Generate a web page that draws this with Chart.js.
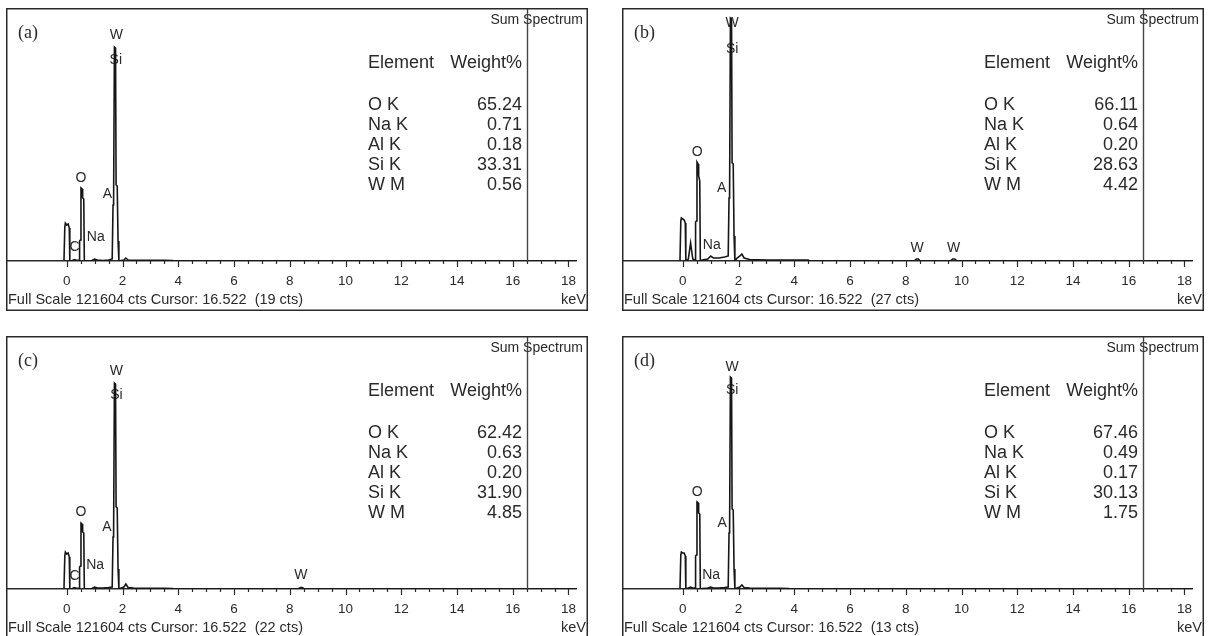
<!DOCTYPE html>
<html>
<head>
<meta charset="utf-8">
<title>EDS sum spectra</title>
<script src="https://cdn.jsdelivr.net/npm/chart.js@4.4.1/dist/chart.umd.min.js"></script>
<style>
  html, body { margin: 0; padding: 0; background: #fff; overflow: hidden; }
  body { width: 1212px; height: 636px; position: relative; }
  canvas { position: absolute; }
</style>
</head>
<body>
<canvas id="panelA" width="582" height="303" style="left:6px;top:8px"></canvas>
<canvas id="panelB" width="582" height="303" style="left:622px;top:8px"></canvas>
<canvas id="panelC" width="582" height="303" style="left:6px;top:336px"></canvas>
<canvas id="panelD" width="582" height="303" style="left:622px;top:336px"></canvas>
<script>
"use strict";
// energy channels (keV) shared by the four spectra
const energyKeV = [-0.10, -0.07, -0.05, 0.00, 0.05, 0.09, 0.11, 0.20, 0.28, 0.36, 0.44, 0.46, 0.49, 0.51, 0.55, 0.57, 0.61, 0.63, 0.70, 0.90,
    1.00, 1.10, 1.30, 1.50, 1.63, 1.66, 1.68, 1.71, 1.75, 1.77, 1.81, 1.84, 1.87, 1.95, 2.05, 2.12, 2.20, 2.40, 3.00, 3.50,
    3.80, 3.85, 4.50, 4.55, 8.30, 8.38, 8.45, 8.52, 9.60, 9.68, 9.76, 9.84, 18.30];
const countsA = [0, 16340, 18260, 17300, 17780, 15860, 0, 240, 720, 240, 480, 9610, 10090, 35090, 34610, 30280, 29800, 0, 140, 240,
    960, 480, 240, 480, 960, 26920, 27880, 102860, 102380, 36530, 36050, 9610, 0, 240, 480, 1440, 480, 380, 290, 380,
    240, 0, 0, 0, 0, 0, 0, 0, 0, 0, 0, 0, 0];
const countsB = [0, 19230, 20670, 20190, 19710, 18260, 0, 960, 8650, 960, 480, 18750, 19230, 47580, 46620, 40860, 38450, 0, 480, 960,
    2400, 1440, 1440, 1920, 2400, 30280, 31240, 116800, 116320, 47100, 46620, 12020, 0, 1440, 2400, 3360, 1440, 720, 480, 480,
    480, 480, 480, 0, 0, 960, 960, 0, 0, 960, 960, 0, 0];
const countsC = [0, 15860, 17780, 16820, 17300, 15380, 0, 240, 720, 240, 480, 10570, 11050, 31720, 31240, 27400, 26920, 0, 140, 240,
    960, 480, 480, 720, 960, 24990, 25950, 99010, 98530, 39410, 38930, 9610, 0, 480, 960, 2400, 720, 480, 290, 380,
    240, 0, 0, 0, 0, 720, 720, 0, 0, 0, 0, 0, 0];
const countsD = [0, 16340, 17780, 17300, 17300, 15860, 0, 480, 960, 480, 480, 15860, 16340, 41820, 41340, 36530, 36050, 0, 240, 480,
    960, 480, 480, 720, 960, 26920, 27880, 101900, 101420, 38450, 37970, 9610, 0, 480, 960, 1920, 720, 480, 290, 380,
    240, 0, 0, 0, 0, 0, 0, 0, 0, 0, 0, 0, 0];

const elements = ['O K', 'Na K', 'Al K', 'Si K', 'W M'];
const weightA = [65.24, 0.71, 0.18, 33.31, 0.56];
const weightB = [66.11, 0.64, 0.20, 28.63, 4.42];
const weightC = [62.42, 0.63, 0.20, 31.90, 4.85];
const weightD = [67.46, 0.49, 0.17, 30.13, 1.75];

const peakTextA = ['W', 'Si', 'O', 'A', 'Na', 'C'];
const peakKeVA = [1.78, 1.76, 0.51, 1.46, 1.04, 0.28];
const peakCtsA = [108630, 96610, 39890, 32200, 11300, 6490];
const peakTextB = ['W', 'Si', 'O', 'A', 'Na', 'W', 'W'];
const peakKeVB = [1.77, 1.77, 0.52, 1.40, 1.04, 8.41, 9.72];
const peakCtsB = [114390, 101900, 52390, 35090, 7690, 6250, 6250];
const peakTextC = ['W', 'Si', 'O', 'A', 'Na', 'C', 'W'];
const peakKeVC = [1.78, 1.78, 0.51, 1.44, 1.02, 0.28, 8.40];
const peakCtsC = [104780, 93250, 37010, 29800, 11540, 6250, 6730];
const peakTextD = ['W', 'Si', 'O', 'A', 'Na'];
const peakKeVD = [1.77, 1.77, 0.52, 1.41, 1.02];
const peakCtsD = [106700, 95650, 46620, 31720, 6730];

const majorTicks = [0, 2, 4, 6, 8, 10, 12, 14, 16, 18];
const fullScale = 121604;
const cursorKeV = 16.522;
const cursorCts = [19, 27, 22, 13];

const sans = '"Liberation Sans", Arial, sans-serif';
const serif = '"Liberation Serif", "Times New Roman", serif';
const ink = '#2a2a2a';

// majors plus a minor tick every 0.5 keV
const tickValues = [];
majorTicks.forEach(v => {
    tickValues.push(v);
    if (v < 18) tickValues.push(v + 0.5, v + 1, v + 1.5);
});

function overlay(panel) {
    return {
        id: 'eds' + panel.tag,
        beforeDatasetsDraw(chart) {
            const { ctx } = chart;
            const x = chart.scales.x, y = chart.scales.y;
            ctx.save();
            ctx.fillStyle = ink;
            ctx.font = `14px ${sans}`;
            ctx.textAlign = 'center';
            ctx.textBaseline = 'middle';
            panel.peakText.forEach((t, i) => {
                ctx.fillText(t, x.getPixelForValue(panel.peakKeV[i]), y.getPixelForValue(panel.peakCts[i]));
            });
            ctx.restore();
        },
        afterDraw(chart) {
            const { ctx, chartArea, width, height } = chart;
            const x = chart.scales.x;
            ctx.save();
            ctx.strokeStyle = ink;
            ctx.fillStyle = ink;

            // tick marks below the axis
            ctx.lineWidth = 1.2;
            x.ticks.forEach(t => {
                const px = Math.round(x.getPixelForValue(t.value)) + 0.5;
                const len = majorTicks.includes(t.value) ? 6 : 3;
                ctx.beginPath();
                ctx.moveTo(px, chartArea.bottom);
                ctx.lineTo(px, chartArea.bottom + len);
                ctx.stroke();
            });

            // title top right, cursor line drawn over it
            ctx.font = `14px ${sans}`;
            ctx.textAlign = 'right';
            ctx.textBaseline = 'middle';
            ctx.fillText('Sum Spectrum', width - 5, 12);
            const cx = Math.round(x.getPixelForValue(cursorKeV)) + 0.5;
            ctx.lineWidth = 1.4;
            ctx.strokeStyle = '#444';
            ctx.beginPath();
            ctx.moveTo(cx, 0);
            ctx.lineTo(cx, chartArea.bottom);
            ctx.stroke();

            // panel letter
            ctx.font = `18px ${serif}`;
            ctx.textAlign = 'left';
            ctx.fillText(panel.letter, 12, 25);

            // composition table
            ctx.font = `18px ${sans}`;
            ctx.textBaseline = 'alphabetic';
            ctx.textAlign = 'left';
            ctx.fillText('Element', 362, 60);
            ctx.textAlign = 'right';
            ctx.fillText('Weight%', 516, 60);
            elements.forEach((el, i) => {
                const by = 102 + i * 20;
                ctx.textAlign = 'left';
                ctx.fillText(el, 362, by);
                ctx.textAlign = 'right';
                ctx.fillText(panel.weight[i].toFixed(2), 516, by);
            });

            // footer
            ctx.font = `14.5px ${sans}`;
            ctx.textBaseline = 'middle';
            ctx.textAlign = 'left';
            ctx.fillText(`Full Scale ${fullScale} cts Cursor: ${cursorKeV.toFixed(3)}  (${panel.cursor} cts)`, 2, 292);
            ctx.textAlign = 'right';
            ctx.fillText('keV', width - 2, 292);

            // frame
            ctx.strokeStyle = ink;
            ctx.lineWidth = 1.5;
            ctx.strokeRect(0.75, 0.75, width - 1.5, height - 1.5);
            ctx.restore();
        }
    };
}

function drawPanel(id, panel) {
    const ctx = document.getElementById(id);
    new Chart(ctx, {
        type: 'line',
        data: {
            datasets: [{
                data: energyKeV.map((e, i) => ({ x: e, y: panel.counts[i] })),
                borderColor: '#161616',
                borderWidth: 1.6,
                pointRadius: 0,
                tension: 0,
                fill: false
            }]
        },
        options: {
            responsive: false,
            animation: false,
            events: [],
            layout: { padding: 0 },
            plugins: { legend: { display: false }, tooltip: { enabled: false } },
            scales: {
                x: {
                    type: 'linear',
                    min: -2.18,
                    max: 18.3,
                    afterBuildTicks: scale => { scale.ticks = tickValues.map(v => ({ value: v })); },
                    afterFit: scale => { scale.height = 50; },
                    grid: { drawOnChartArea: false, drawTicks: false },
                    border: { display: true, color: ink, width: 1.5 },
                    ticks: {
                        autoSkip: false,
                        maxRotation: 0,
                        padding: 12,
                        color: ink,
                        font: { family: sans, size: 13.5 },
                        callback: v => majorTicks.includes(v) ? String(v) : ''
                    }
                },
                y: { display: false, min: 0, max: fullScale }
            }
        },
        plugins: [overlay(panel)]
    });
}

document.addEventListener('DOMContentLoaded', () => {
    drawPanel('panelA', { tag: 'a', letter: '(a)', counts: countsA, weight: weightA, cursor: cursorCts[0],
        peakText: peakTextA, peakKeV: peakKeVA, peakCts: peakCtsA });
    drawPanel('panelB', { tag: 'b', letter: '(b)', counts: countsB, weight: weightB, cursor: cursorCts[1],
        peakText: peakTextB, peakKeV: peakKeVB, peakCts: peakCtsB });
    drawPanel('panelC', { tag: 'c', letter: '(c)', counts: countsC, weight: weightC, cursor: cursorCts[2],
        peakText: peakTextC, peakKeV: peakKeVC, peakCts: peakCtsC });
    drawPanel('panelD', { tag: 'd', letter: '(d)', counts: countsD, weight: weightD, cursor: cursorCts[3],
        peakText: peakTextD, peakKeV: peakKeVD, peakCts: peakCtsD });
});
</script>
</body>
</html>
